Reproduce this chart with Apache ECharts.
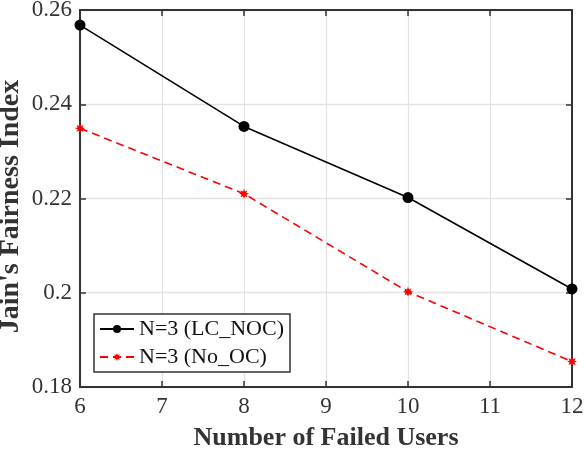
<!DOCTYPE html>
<html><head><meta charset="utf-8">
<script src="https://cdn.jsdelivr.net/npm/echarts@6/dist/echarts.min.js"></script>
<style>html,body{margin:0;padding:0;background:#fff}#c{width:586px;height:450px}</style>
</head><body><div id="c"></div>
<script>
const categories = [6, 8, 10, 12];
const lcNoc = [0.2568, 0.2353, 0.2202, 0.2008];
const noOc = [0.2349, 0.2210, 0.2002, 0.1854];
const xTicks = [6, 7, 8, 9, 10, 11, 12];
const yTicks = [0.18, 0.2, 0.22, 0.24, 0.26];

function starPath(n, ro, ri) {
  let d = '';
  for (let i = 0; i < 2 * n; i++) {
    const r = i % 2 ? ri : ro;
    const a = Math.PI * i / n - Math.PI / 2;
    d += (i ? 'L' : 'M') + (r * Math.cos(a)).toFixed(2) + ' ' + (r * Math.sin(a)).toFixed(2);
  }
  return 'path://' + d + 'Z';
}
const font = 'Liberation Serif';
const chart = echarts.init(document.getElementById('c'));
chart.setOption({
  animation: false,
  grid: { left: 80, right: 14, top: 10, bottom: 63, outerBoundsMode: 'none', containLabel: false },
  legend: {
    left: 94, top: 314, orient: 'vertical',
    backgroundColor: '#fff', borderColor: '#333', borderWidth: 1.5,
    padding: [4, 6, 4, 5], itemGap: 6, itemWidth: 34, itemHeight: 10,
    textStyle: { fontFamily: font, fontSize: 22, color: '#111', lineHeight: 22 },
    data: ['N=3 (LC_NOC)', 'N=3 (No_OC)']
  },
  xAxis: [{
    type: 'value', min: 6, max: 12, interval: 1,
    name: 'Number of Failed Users', nameLocation: 'middle', nameGap: 38, nameMoveOverlap: false,
    nameTextStyle: { fontFamily: font, fontSize: 26, fontWeight: 'bold', color: '#333' },
    axisLine: { lineStyle: { color: '#333', width: 2 } },
    axisTick: { inside: true, length: 6, lineStyle: { color: '#333', width: 1.5 } },
    axisLabel: { fontFamily: font, fontSize: 23, color: '#333', margin: 8 },
    splitLine: { show: true, lineStyle: { color: '#e3e3e3', width: 1.3 } }
  }, {
    type: 'value', min: 6, max: 12, interval: 1, position: 'top',
    axisLine: { show: true, lineStyle: { color: '#333', width: 2 } },
    axisTick: { inside: true, length: 6, lineStyle: { color: '#333', width: 1.5 } },
    axisLabel: { show: false }, splitLine: { show: false }
  }],
  yAxis: [{
    type: 'value', min: 0.18, max: 0.26, interval: 0.02,
    name: "Jain's Fairness Index", nameLocation: 'middle', nameGap: 55, nameMoveOverlap: false,
    nameTextStyle: { fontFamily: font, fontSize: 28, fontWeight: 'bold', color: '#333', padding: [0, 16, 0, 0] },
    axisLine: { show: true, lineStyle: { color: '#333', width: 2 } },
    axisTick: { show: true, inside: true, length: 6, lineStyle: { color: '#333', width: 1.5 } },
    axisLabel: { fontFamily: font, fontSize: 23, color: '#333', margin: 8,
      formatter: v => String(+v.toFixed(2)) },
    splitLine: { show: true, lineStyle: { color: '#e3e3e3', width: 1.3 } }
  }, {
    type: 'value', min: 0.18, max: 0.26, interval: 0.02, position: 'right',
    axisLine: { show: true, lineStyle: { color: '#333', width: 2 } },
    axisTick: { show: true, inside: true, length: 6, lineStyle: { color: '#333', width: 1.5 } },
    axisLabel: { show: false }, splitLine: { show: false }
  }],
  series: [{
    name: 'N=3 (LC_NOC)', type: 'line',
    data: categories.map((x, i) => [x, lcNoc[i]]),
    symbol: 'circle', symbolSize: 11,
    itemStyle: { color: '#000' },
    lineStyle: { color: '#000', width: 1.6 }
  }, {
    name: 'N=3 (No_OC)', type: 'line',
    data: categories.map((x, i) => [x, noOc[i]]),
    symbol: starPath(8, 5, 2.6), symbolSize: 10,
    itemStyle: { color: '#ff0000' },
    lineStyle: { color: '#ff0000', width: 1.6, type: [8, 5] }
  }]
});
</script></body></html>
